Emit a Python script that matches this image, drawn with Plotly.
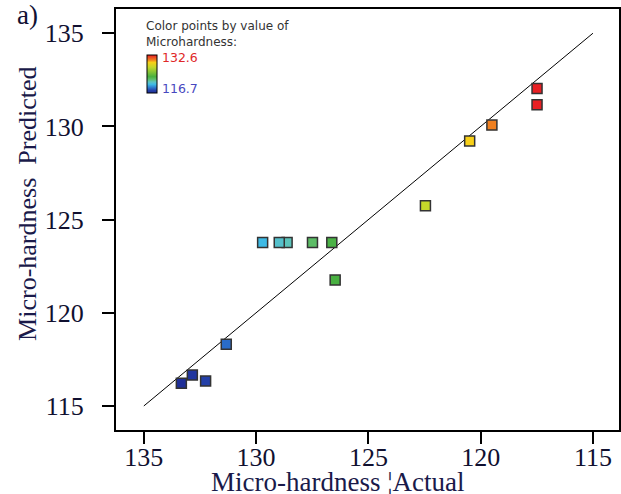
import plotly.graph_objects as go

# Data
actual = [117.49, 117.49, 119.50, 120.49, 122.46, 126.63, 127.49, 128.62, 128.97, 129.71,
          126.48, 131.33, 132.84, 133.33, 132.25]
predicted = [132.03, 131.16, 130.07, 129.22, 125.74, 123.77, 123.77, 123.77, 123.77, 123.77,
             121.76, 118.31, 116.66, 116.22, 116.34]
microhardness = [132.51, 132.51, 130.50, 129.51, 127.54, 123.37, 122.51, 121.38, 121.03, 120.29,
                 123.52, 118.67, 117.16, 116.67, 117.75]
line_x = [135, 115]
line_y = [115, 135]
x_ticks = [135, 130, 125, 120, 115]
y_ticks = [115, 120, 125, 130, 135]
cmin, cmax = 116.7, 132.6

colorscale = [
    [0.0, "#1f2f98"], [0.066, "#2440a8"], [0.124, "#2a6cc8"], [0.228, "#3ebce6"],
    [0.27, "#54c0cc"], [0.29, "#5cc4c0"], [0.367, "#5cbc64"], [0.43, "#48b040"],
    [0.68, "#c4d82a"], [0.806, "#f8d018"], [0.868, "#f08020"], [1.0, "#e81c24"],
]

fig = go.Figure()
fig.add_trace(go.Scatter(x=line_x, y=line_y, mode="lines",
                         line=dict(color="black", width=1), showlegend=False,
                         hoverinfo="skip"))
fig.add_trace(go.Scatter(
    x=actual, y=predicted, mode="markers", showlegend=False,
    marker=dict(symbol="square", size=10, color=microhardness, colorscale=colorscale,
                cmin=cmin, cmax=cmax,
                line=dict(color="#333333", width=1.5),
                colorbar=dict(x=0.0614, xanchor="left", y=0.8456, yanchor="middle",
                              lenmode="pixels", len=38, thickness=10,
                              thicknessmode="pixels", xpad=0, ypad=0,
                              outlinewidth=1, outlinecolor="black",
                              showticklabels=False, ticks=""))))

serif = "Liberation Serif, Times New Roman, serif"
axis_common = dict(showline=True, linecolor="black", linewidth=2, mirror=True,
                   ticks="outside", ticklen=12, tickwidth=1.5, tickcolor="black",
                   showgrid=False, zeroline=False,
                   tickfont=dict(family=serif, size=26, color="#101030"))
fig.update_xaxes(range=[136.24, 113.84], tickvals=x_ticks, ticklabelstandoff=-9,
                 **axis_common)
fig.update_yaxes(range=[113.71, 136.30], tickvals=y_ticks, ticklabelstandoff=13,
                 **axis_common)

fig.add_annotation(xref="paper", yref="paper", x=0.4416, y=-0.123, xanchor="center",
                   yanchor="middle", showarrow=False, text="Micro-hardness ¦Actual",
                   font=dict(family=serif, size=27, color="#1a1a4a"))
fig.add_annotation(xref="paper", yref="paper", x=-0.175, y=0.537, xanchor="center",
                   yanchor="middle", showarrow=False, textangle=-90,
                   text="Micro-hardness  Predicted",
                   font=dict(family=serif, size=26, color="#1a1a4a"))

sans = "DejaVu Sans, Arial, sans-serif"
fig.add_annotation(xref="paper", yref="paper", x=0.056, y=0.94, xanchor="left",
                   yanchor="middle", showarrow=False, align="left",
                   text="Color points by value of<br>Microhardness:",
                   font=dict(family=sans, size=12, color="#333333"))
fig.add_annotation(xref="paper", yref="paper", x=0.088, y=0.884, xanchor="left",
                   yanchor="middle", showarrow=False, text="132.6",
                   font=dict(family=sans, size=12.5, color="#e02828"))
fig.add_annotation(xref="paper", yref="paper", x=0.088, y=0.812, xanchor="left",
                   yanchor="middle", showarrow=False, text="116.7",
                   font=dict(family=sans, size=12.5, color="#4848c0"))
fig.add_annotation(xref="paper", yref="paper", x=-0.2, y=1.025, xanchor="left",
                   yanchor="top", showarrow=False, text="a)",
                   font=dict(family=serif, size=27, color="#111133"))

fig.update_layout(width=621, height=494, margin=dict(l=116, r=0, t=9, b=64),
                  plot_bgcolor="white", paper_bgcolor="white")
fig.write_html("out.html")
